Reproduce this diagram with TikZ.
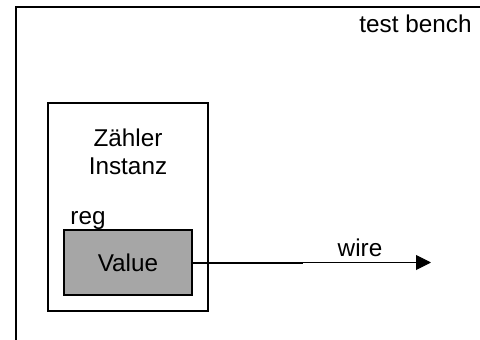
\documentclass[tikz,border=0pt]{standalone}
\usepackage{fontspec}
\setmainfont{Liberation Sans}
\usepackage{tikz}
\usetikzlibrary{arrows.meta}
\usetikzlibrary{positioning}
\definecolor{regfill}{HTML}{A6A6A6}
\tikzset{
	lbl/.style={anchor=base, inner sep=0pt, font=\fontsize{24.3}{28}\selectfont},
	box/.style={draw, line width=2pt, inner sep=0pt},
}
\begin{document}
\begin{tikzpicture}[x=1pt, y=-1pt]
	\useasboundingbox (0,0) rectangle (480,340);
	% test bench
	\draw[line width=2pt] (16,341) -- (16,7) -- (481,7);
	\node[lbl] (tb) at (415.5, 32) {test bench};
	% instance
	\node[box, minimum width=160pt, minimum height=208pt] (inst) at (128, 207) {};
	\node[lbl] (name1) at (128, 146) {Z\"ahler};
	\node[lbl] (name2) at (128, 174) {Instanz};
	\node[lbl] (reg) at (88, 224) {reg};
	\node[box, fill=regfill, minimum width=128pt, minimum height=65pt, font=\fontsize{24.3}{28}\selectfont] (val) at (128, 262.5) {Value};
	% wire
	\coordinate (mid) at (303, 262.5);
	\coordinate (tip) at (431, 262.5);
	\draw[line width=2pt] (val.east) -- (mid);
	\draw[line width=1pt, -{Triangle[length=15pt, width=15pt]}] (mid) -- (tip);
	\node[lbl] (w) at (360, 256) {wire};
\end{tikzpicture}
\end{document}
